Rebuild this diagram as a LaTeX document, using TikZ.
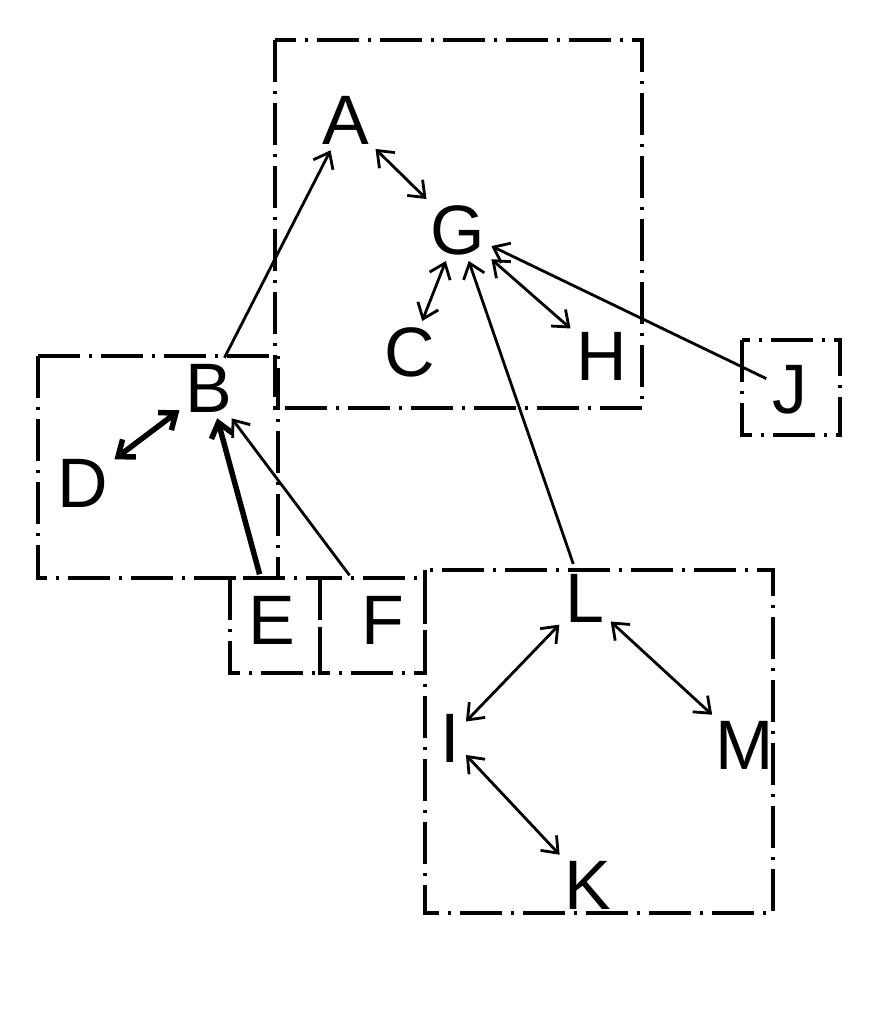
\documentclass[tikz,border=0pt]{standalone}
\usepackage{fontspec}
\setmainfont{Liberation Sans}
\usetikzlibrary{arrows.meta}
\begin{document}
\begin{tikzpicture}[x=1pt,y=-1pt,
  lbl/.style={font=\fontsize{70}{70}\selectfont, inner sep=6pt},
  grp/.style={draw, line width=3.2pt, dash pattern=on 42pt off 9pt on 3pt off 9pt},
  one/.style={line width=2.8pt, -{Straight Barb[length=14pt,width=22pt]}},
  two/.style={line width=2.8pt, {Straight Barb[length=14pt,width=22pt]}-{Straight Barb[length=14pt,width=22pt]}},
  heavy/.style={line width=5.5pt}]
\useasboundingbox[fill=white] (0,0) rectangle (887,1024);
% group boxes
\draw[grp] (275,40) rectangle (642,408);
\draw[grp] (38,356) rectangle (278,578);
\draw[grp] (230,578) rectangle (320,673);
\draw[grp] (320,578) rectangle (425,673);
\draw[grp] (425,570) rectangle (773,913);
\draw[grp] (742,340) rectangle (840,435);
% nodes
\node[lbl] (A) at (346,120) {A};
\node[lbl] (G) at (458,230) {G};
\node[lbl] (C) at (410,352) {C};
\node[lbl] (H) at (602,356) {H};
\node[lbl] (J) at (790,390) {J};
\node[lbl] (B) at (209,388) {B};
\node[lbl] (D) at (83,483) {D};
\node[lbl] (E) at (272,620) {E};
\node[lbl] (F) at (383,620) {F};
\node[lbl] (L) at (585,598) {L};
\node[lbl] (I) at (450,738) {I};
\node[lbl] (M) at (745,745) {M};
\node[lbl] (K) at (588,885) {K};
% connectors
\draw[one] (B) -- (A);
\draw[two] (A) -- (G);
\draw[two] (G) -- (C);
\draw[two] (G) -- (H);
\draw[one] (J) -- (G);
\draw[one, shorten <=4pt] (L) -- (G);
\draw[two, heavy] (D) -- (B);
\draw[one, heavy, shorten <=16pt] (E) -- (B);
\draw[one, shorten <=18pt] (F) -- (B);
\draw[two] (L) -- (I);
\draw[two] (L) -- (M);
\draw[two] (I) -- (K);
\end{tikzpicture}
\end{document}
